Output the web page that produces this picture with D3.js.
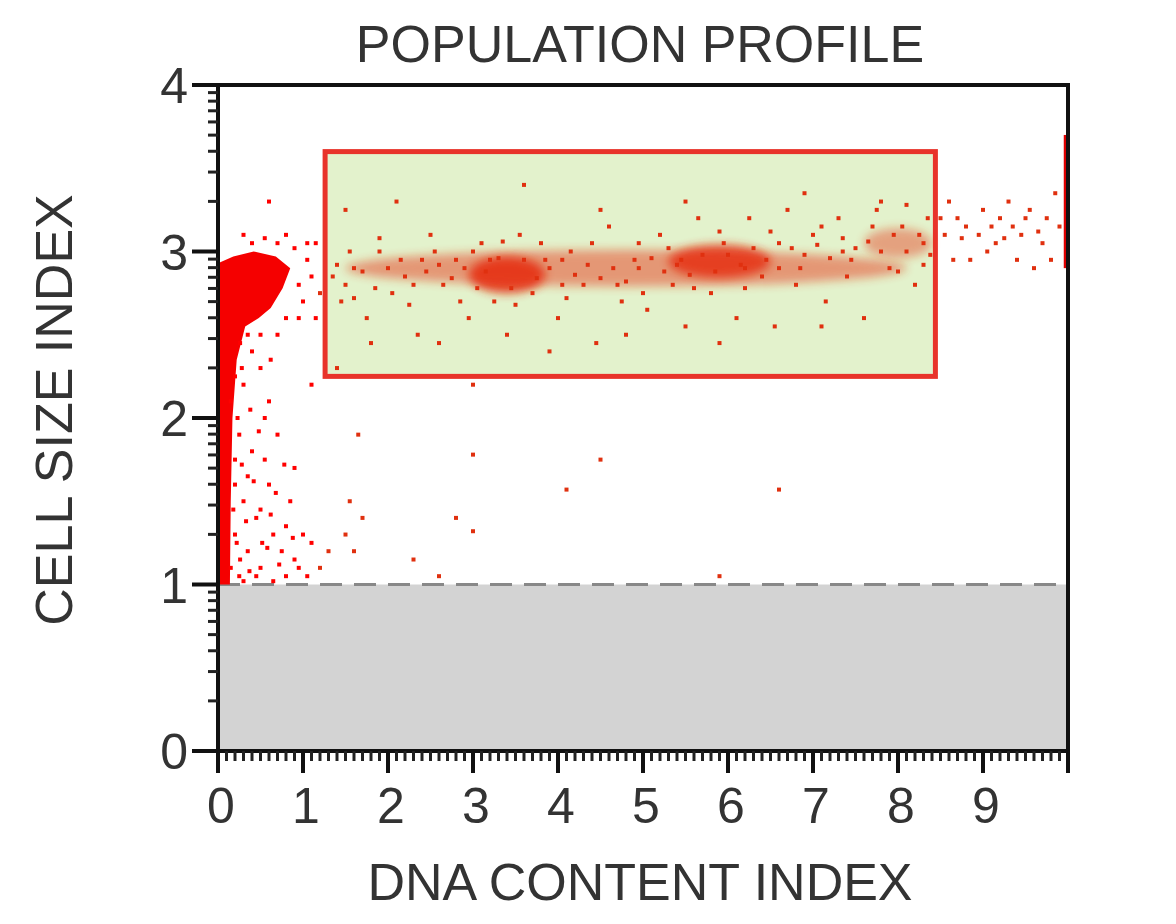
<!DOCTYPE html>
<html>
<head>
<meta charset="utf-8">
<script src="https://cdn.jsdelivr.net/npm/d3@7"></script>
<style>
  body { margin: 0; background: #fff; }
  text { font-family: "Liberation Sans", Arial, sans-serif; fill: #333; }
</style>
</head>
<body>
<svg id="chart" width="1176" height="924"></svg>
<script>
// gate and threshold
var gate = { x0: 1.26, x1: 8.44, y0: 2.25, y1: 3.6 };
var threshold = 1;
var xTicks = [0, 1, 2, 3, 4, 5, 6, 7, 8, 9];
var yTicks = [0, 1, 2, 3, 4];

// outline of the saturated region near the origin (x, y)
var denseOutline = [
  [0, 1.0], [0.14, 1.0], [0.15, 1.5], [0.17, 2.0], [0.22, 2.35], [0.32, 2.55], [0.48, 2.6],
  [0.62, 2.66], [0.76, 2.78], [0.85, 2.9], [0.68, 2.97], [0.42, 3.0], [0.18, 2.97], [0, 2.93]
];

// soft density in the gated band: [cx, cy, rx, ry, opacity]
var blobs = [
  [3.4, 2.86, 0.45, 0.11, 0.85],
  [5.9, 2.94, 0.6, 0.1, 0.8],
  [4.8, 2.9, 3.3, 0.11, 0.45],
  [8.0, 3.05, 0.4, 0.09, 0.4]
];

// individual events (x, y)
var events = [
  [0.15,1.1],[0.2,1.3],[0.25,1.05],[0.3,1.5],[0.35,1.2],[0.4,1.8],[0.45,1.4],[0.5,1.1],
  [0.55,2.0],[0.6,1.6],[0.65,1.3],[0.7,1.9],[0.75,1.2],[0.8,1.05],[0.85,1.5],[0.9,1.7],
  [0.95,1.1],[1.0,1.3],[1.05,1.05],[1.1,1.25],[0.3,2.2],[0.4,2.4],[0.5,2.3],[0.6,2.1],
  [0.7,2.5],[0.25,1.9],[0.35,1.65],[0.55,1.75],[0.65,1.02],[0.45,1.05],[0.2,1.6],[0.15,2.1],
  [0.3,1.02],[0.5,1.45],[0.8,1.35],[0.9,1.15],[1.2,1.1],[1.3,1.2],[1.5,1.3],[1.6,1.2],
  [1.65,1.9],[1.55,1.5],[1.7,1.4],[2.3,1.15],[2.6,1.05],[2.8,1.4],[3.0,1.32],[3.0,1.78],
  [4.1,1.57],[4.5,1.75],[5.9,1.05],[6.6,1.57],[3.0,2.2],[1.1,2.2],[1.4,2.3],[0.95,2.6],
  [1.05,2.95],[1.15,3.05],[0.6,3.3],[0.8,3.1],[0.4,3.05],[0.22,1.25],[0.33,1.38],[0.42,1.62],
  [0.58,1.22],[0.68,1.55],[0.78,1.72],[0.88,1.28],[0.48,1.92],[0.38,2.05],[0.62,2.35],[0.18,1.45],
  [0.2,1.75],[0.23,2.0],[0.2,2.25],[0.26,2.45],[0.28,2.3],[0.35,2.5],[0.5,2.5],[0.8,2.6],
  [0.95,2.8],[1.0,2.7],[1.1,2.85],[1.2,2.75],[1.15,2.6],[1.05,3.05],[0.9,3.02],[0.7,3.05],
  [0.3,3.1],[0.55,3.08],[0.26,1.15],[0.37,1.08],[0.52,1.25],[0.72,1.12],[0.62,1.42],[0.28,1.72],
  [1.45,2.7],[1.6,2.9],[1.75,2.6],[1.9,3.0],[2.05,2.75],[2.2,2.85],[2.35,2.5],[2.5,3.1],
  [2.65,2.8],[2.8,2.95],[2.95,2.6],[3.1,3.05],[3.25,2.7],[3.4,2.5],[3.55,3.1],[3.7,2.75],
  [3.85,2.95],[4.0,2.6],[4.15,3.0],[4.3,2.8],[4.45,2.45],[4.6,3.15],[4.75,2.7],[4.9,2.95],
  [5.05,2.65],[5.2,3.1],[5.35,2.8],[5.5,2.55],[5.65,3.2],[5.8,2.75],[5.95,3.05],[6.1,2.6],
  [6.25,3.2],[6.4,2.85],[6.55,2.55],[6.7,3.25],[6.85,2.9],[7.0,3.1],[7.15,2.7],[7.3,3.2],
  [7.45,2.95],[7.6,2.6],[7.75,3.25],[7.9,2.9],[8.05,3.15],[8.2,2.8],[8.35,3.2],[1.5,3.25],
  [2.1,3.3],[3.6,3.4],[4.5,3.25],[5.5,3.3],[6.9,3.35],[7.8,3.3],[8.1,3.28],[2.6,2.45],
  [3.9,2.4],[4.8,2.5],[5.9,2.45],[7.1,2.55],[1.8,2.45],[1.35,2.85],[1.55,3.0],[2.4,2.95],
  [3.2,2.95],[4.05,2.8],[4.95,3.05],[5.45,2.95],[6.2,2.9],[6.6,3.05],[7.35,3.0],[8.3,3.05],
  [1.4,2.92],[1.5,2.8],[1.7,2.88],[1.85,2.78],[2.0,2.9],[2.15,2.95],[2.3,2.8],[2.45,2.88],
  [2.6,2.92],[2.75,2.84],[2.9,2.9],[3.05,2.78],[3.15,2.88],[3.3,2.96],[3.45,2.78],[3.6,2.95],
  [3.75,2.84],[3.9,2.9],[4.05,2.95],[4.2,2.86],[4.35,2.92],[4.5,2.84],[4.65,2.9],[4.8,2.82],
  [4.95,2.9],[5.1,2.96],[5.25,2.88],[5.4,2.92],[5.55,2.86],[5.7,2.98],[5.85,2.88],[6.0,2.98],
  [6.15,2.92],[6.3,3.02],[6.45,2.95],[6.6,2.9],[6.75,3.02],[6.9,2.98],[7.05,3.04],[7.2,2.96],
  [7.35,3.08],[7.5,3.02],[7.65,3.06],[7.8,3.0],[7.95,3.1],[8.1,3.0],[8.25,3.1],[8.38,2.98],
  [1.6,2.72],[1.9,3.08],[2.25,2.68],[2.55,3.0],[2.85,2.7],[3.0,3.0],[3.35,3.06],[3.5,2.68],
  [3.8,3.05],[4.1,2.72],[4.4,3.05],[4.7,2.8],[5.0,2.75],[5.3,3.02],[5.6,2.78],[5.9,3.12],
  [6.2,2.78],[6.5,3.12],[6.8,2.8],[7.1,3.15],[7.4,2.85],[7.7,3.15],[8.0,2.88],[8.3,2.92],
  [8.55,3.1],[8.7,3.2],[8.85,2.95],[9.0,3.25],[9.15,3.05],[9.3,3.3],[9.45,3.1],[9.6,2.9],
  [9.75,3.2],[9.85,3.35],[8.6,3.3],[8.8,3.15],[9.05,3.0],[9.2,3.2],[9.4,2.95],[9.55,3.25],
  [9.7,3.05],[9.9,3.15],[8.95,3.1],[9.35,3.15],[8.65,2.95],[9.8,2.95],[8.5,3.2],[8.75,3.08],
  [9.1,3.15],[9.5,3.2],[9.65,3.12],[9.25,3.08]
];

var svg = d3.select('#chart');
var pLeft = 218, pRight = 1068, pTop = 85, pBottom = 751;

var x = d3.scaleLinear().domain([0, 10]).range([pLeft, pRight]);
var y = d3.scaleLinear().domain([0, 4]).range([pBottom, pTop]);

var defs = svg.append('defs');
defs.append('filter').attr('id', 'soft')
  .attr('x', '-50%').attr('y', '-50%').attr('width', '200%').attr('height', '200%')
  .append('feGaussianBlur').attr('stdDeviation', 5);
defs.append('clipPath').attr('id', 'plot').append('rect')
  .attr('x', pLeft).attr('y', pTop).attr('width', pRight - pLeft).attr('height', pBottom - pTop);

// gray region below threshold
svg.append('rect')
  .attr('x', x(0)).attr('y', y(threshold))
  .attr('width', x(10) - x(0)).attr('height', y(0) - y(threshold))
  .attr('fill', '#d3d3d3');

svg.append('line')
  .attr('x1', x(0)).attr('x2', x(10))
  .attr('y1', y(threshold)).attr('y2', y(threshold))
  .attr('stroke', '#888').attr('stroke-width', 3)
  .attr('stroke-dasharray', '22,12');

// gate box
svg.append('rect')
  .attr('x', x(gate.x0)).attr('y', y(gate.y1))
  .attr('width', x(gate.x1) - x(gate.x0)).attr('height', y(gate.y0) - y(gate.y1))
  .attr('fill', '#e3f2cc').attr('stroke', '#e8332a').attr('stroke-width', 5);

var g = svg.append('g').attr('clip-path', 'url(#plot)');

g.selectAll('ellipse').data(blobs).enter().append('ellipse')
  .attr('cx', function(d) { return x(d[0]); })
  .attr('cy', function(d) { return y(d[1]); })
  .attr('rx', function(d) { return x(d[2]) - x(0); })
  .attr('ry', function(d) { return y(0) - y(d[3]); })
  .attr('fill', '#e62a0c')
  .attr('opacity', function(d) { return d[4]; })
  .attr('filter', 'url(#soft)');

g.append('path')
  .datum(denseOutline)
  .attr('d', d3.line().x(function(d) { return x(d[0]); }).y(function(d) { return y(d[1]); }).curve(d3.curveLinearClosed))
  .attr('fill', '#f50000');

// saturated column at the right edge
g.append('rect')
  .attr('x', x(9.95)).attr('y', y(3.7))
  .attr('width', x(10) - x(9.95)).attr('height', y(2.9) - y(3.7))
  .attr('fill', '#d00');

g.selectAll('rect.ev').data(events).enter().append('rect')
  .attr('class', 'ev')
  .attr('x', function(d) { return x(d[0]) - 2; })
  .attr('y', function(d) { return y(d[1]) - 2; })
  .attr('width', 4).attr('height', 4)
  .attr('fill', function(d) { return d[0] < 1.2 ? '#f00' : '#e0300f'; });

// frame
svg.append('path')
  .attr('d', 'M' + pLeft + ',' + y(4) + 'H' + pRight + 'V' + pBottom)
  .attr('fill', 'none').attr('stroke', '#111').attr('stroke-width', 4);

// y axis with log-style minor ticks
var yMinor = [];
[0, 1, 2, 3].forEach(function(n) {
  for (var k = 2; k <= 9; k++) yMinor.push(n + Math.log10(k));
});
var yAxis = svg.append('g').attr('transform', 'translate(' + pLeft + ',0)');
yAxis.append('line').attr('x1', 0).attr('x2', 0).attr('y1', y(4)).attr('y2', pBottom)
  .attr('stroke', '#111').attr('stroke-width', 4);
yAxis.selectAll('line.minor').data(yMinor).enter().append('line')
  .attr('x1', -10).attr('x2', 0)
  .attr('y1', function(d) { return y(d); }).attr('y2', function(d) { return y(d); })
  .attr('stroke', '#222').attr('stroke-width', 3);
yAxis.selectAll('line.major').data(yTicks).enter().append('line')
  .attr('x1', -26).attr('x2', 0)
  .attr('y1', function(d) { return y(d); }).attr('y2', function(d) { return y(d); })
  .attr('stroke', '#111').attr('stroke-width', 4);
yAxis.selectAll('text').data(yTicks).enter().append('text')
  .attr('x', -30).attr('y', function(d) { return y(d); }).attr('dy', '0.36em')
  .attr('text-anchor', 'end').attr('font-size', 50).text(function(d) { return d; });

// x axis
var xMinor = d3.range(0, 100).map(function(i) { return i / 10; });
var xAxis = svg.append('g').attr('transform', 'translate(0,' + pBottom + ')');
xAxis.append('line').attr('x1', pLeft).attr('x2', pRight).attr('y1', 0).attr('y2', 0)
  .attr('stroke', '#111').attr('stroke-width', 4);
xAxis.selectAll('line.minor').data(xMinor).enter().append('line')
  .attr('x1', function(d) { return x(d); }).attr('x2', function(d) { return x(d); })
  .attr('y1', 0).attr('y2', 10)
  .attr('stroke', '#222').attr('stroke-width', 3);
xAxis.selectAll('line.major').data(xTicks.concat([10])).enter().append('line')
  .attr('x1', function(d) { return x(d); }).attr('x2', function(d) { return x(d); })
  .attr('y1', 0).attr('y2', 22)
  .attr('stroke', '#111').attr('stroke-width', 4);
xAxis.selectAll('text').data(xTicks).enter().append('text')
  .attr('x', function(d) { return x(d) + 3; }).attr('y', 72)
  .attr('text-anchor', 'middle').attr('font-size', 50).text(function(d) { return d; });

svg.append('text').attr('x', 640).attr('y', 62).attr('text-anchor', 'middle')
  .attr('font-size', 52).text('POPULATION PROFILE');
svg.append('text').attr('x', 640).attr('y', 900).attr('text-anchor', 'middle')
  .attr('font-size', 52).text('DNA CONTENT INDEX');
svg.append('text').attr('transform', 'translate(72,410) rotate(-90)')
  .attr('text-anchor', 'middle').attr('font-size', 52).text('CELL SIZE INDEX');
</script>
</body>
</html>
